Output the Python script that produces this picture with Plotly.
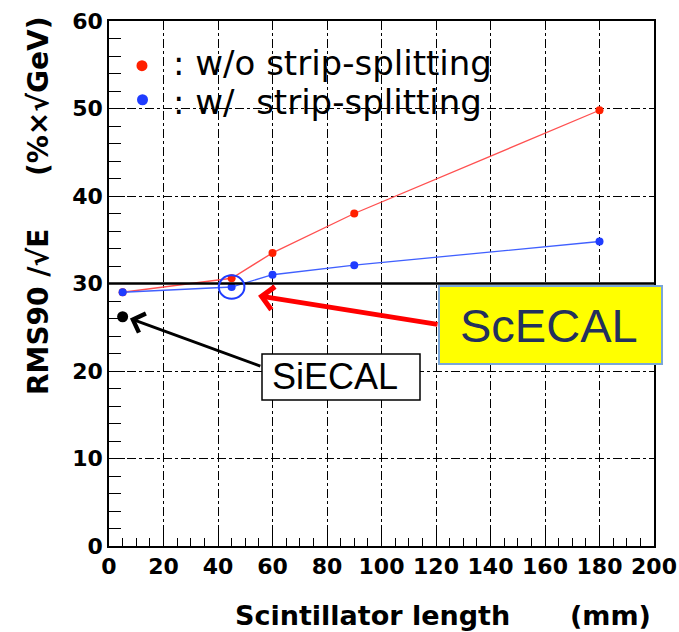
import plotly.graph_objects as go

# ---- data ----
lengths = [5, 45, 60, 90, 180]
rms_wo_split = [29.0, 30.6, 33.5, 38.0, 49.8]
rms_w_split = [29.0, 29.6, 31.0, 32.1, 34.8]
siecal_x = [5]
siecal_y = [26.2]
scecal_x = [45]
scecal_y = [29.6]
reference_level = 30
x_ticks = [0, 20, 40, 60, 80, 100, 120, 140, 160, 180, 200]
y_ticks = [0, 10, 20, 30, 40, 50, 60]

RED = "#ff2000"
BLUE = "#1f3cff"
ROOT_FONT = "DejaVu Sans"

L, R, T, B = 109, 25, 21, 86
W, H = 679, 632
PW, PH = W - L - R, H - T - B


def px(xp):
    return (xp - L) / PW


def py(yp):
    return (H - B - yp) / PH


fig = go.Figure()

fig.add_trace(go.Scatter(x=lengths, y=rms_wo_split, mode="lines+markers",
                         line=dict(color="#ff5050", width=1.3),
                         marker=dict(color=RED, size=8), showlegend=False))
fig.add_trace(go.Scatter(x=lengths, y=rms_w_split, mode="lines+markers",
                         line=dict(color="#4060ff", width=1.3),
                         marker=dict(color=BLUE, size=8), showlegend=False))
fig.add_trace(go.Scatter(x=siecal_x, y=siecal_y, mode="markers",
                         marker=dict(color="black", size=11), showlegend=False))

# legend dots
fig.add_trace(go.Scatter(x=[12.1], y=[54.9], mode="markers",
                         marker=dict(color=RED, size=11), showlegend=False))
fig.add_trace(go.Scatter(x=[12.3], y=[51.0], mode="markers",
                         marker=dict(color=BLUE, size=11), showlegend=False))

shapes = []
shapes.append(dict(type="line", xref="x", yref="y", x0=0, x1=200,
                   y0=reference_level, y1=reference_level,
                   line=dict(color="black", width=2.5)))
shapes.append(dict(type="circle", xref="x", yref="y",
                   x0=scecal_x[0] - 4.7, x1=scecal_x[0] + 4.7,
                   y0=scecal_y[0] - 1.35, y1=scecal_y[0] + 1.35,
                   line=dict(color=BLUE, width=2)))
shapes.append(dict(type="rect", xref="paper", yref="paper",
                   x0=px(439), x1=px(662), y0=py(364), y1=py(286),
                   fillcolor="#ffff00", line=dict(color="#7aa6d8", width=2)))
shapes.append(dict(type="rect", xref="paper", yref="paper",
                   x0=px(262), x1=px(420), y0=py(400), y1=py(354),
                   fillcolor="white", line=dict(color="black", width=1.5)))

annotations = []
annotations.append(dict(x=54.7, y=28.6, ax=121.1, ay=25.3, xref="x", yref="y",
                        axref="x", ayref="y", text="", showarrow=True,
                        arrowhead=4, arrowsize=0.9, arrowwidth=5, arrowcolor="#ff0000"))
annotations.append(dict(x=7.7, y=26.0, ax=56.1, ay=20.5, xref="x", yref="y",
                        axref="x", ayref="y", text="", showarrow=True,
                        arrowhead=4, arrowsize=1.3, arrowwidth=3, arrowcolor="black"))


def txt(xp, yp, text, size, family, color="black", xanchor="center", angle=0):
    return dict(x=px(xp), y=py(yp), xref="paper", yref="paper", text=text,
                showarrow=False, xanchor=xanchor, yanchor="middle", textangle=angle,
                font=dict(family=family, size=size, color=color))


annotations.append(txt(549, 325, "ScECAL", 47, "Liberation Sans", color="#23305e"))
annotations.append(txt(335, 376, "SiECAL", 36, "Liberation Sans"))
annotations.append(txt(171, 63, ": w/o strip-splitting", 34, ROOT_FONT, xanchor="left"))
annotations.append(txt(171, 102, ": w/\u00a0\u00a0strip-splitting", 34, ROOT_FONT, xanchor="left"))
annotations.append(txt(38, 312, "<b>RMS90 /√E</b>", 28, ROOT_FONT, angle=-90))
annotations.append(txt(38, 97, "<b>(%×√GeV)</b>", 28, ROOT_FONT, angle=-90))
annotations.append(txt(233, 615, "<b>Scintillator length</b>", 27, ROOT_FONT, xanchor="left"))
annotations.append(txt(653, 615, "<b>(mm)</b>", 27, ROOT_FONT, xanchor="right"))

axis_common = dict(showline=True, linecolor="black", linewidth=1.5, mirror=True,
                   showgrid=True, gridcolor="black", gridwidth=1, griddash="dashdot",
                   zeroline=False, ticks="inside", tickcolor="black", automargin=False,
                   tickfont=dict(family=ROOT_FONT, size=22, color="black", weight="bold"))

fig.update_layout(
    width=W, height=H,
    margin=dict(l=L, r=R, t=T, b=B),
    paper_bgcolor="white", plot_bgcolor="white",
    shapes=shapes, annotations=annotations,
    xaxis=dict(range=[0, 200], tickvals=x_ticks, ticklen=14,
               minor=dict(dtick=5, tick0=0, ticks="inside", ticklen=8, tickcolor="black",
                          showgrid=False),
               **axis_common),
    yaxis=dict(range=[0, 60], tickvals=y_ticks, ticklen=16,
               minor=dict(dtick=2, tick0=0, ticks="inside", ticklen=12, tickcolor="black",
                          showgrid=False),
               **axis_common),
)

fig.write_html("out.html")
